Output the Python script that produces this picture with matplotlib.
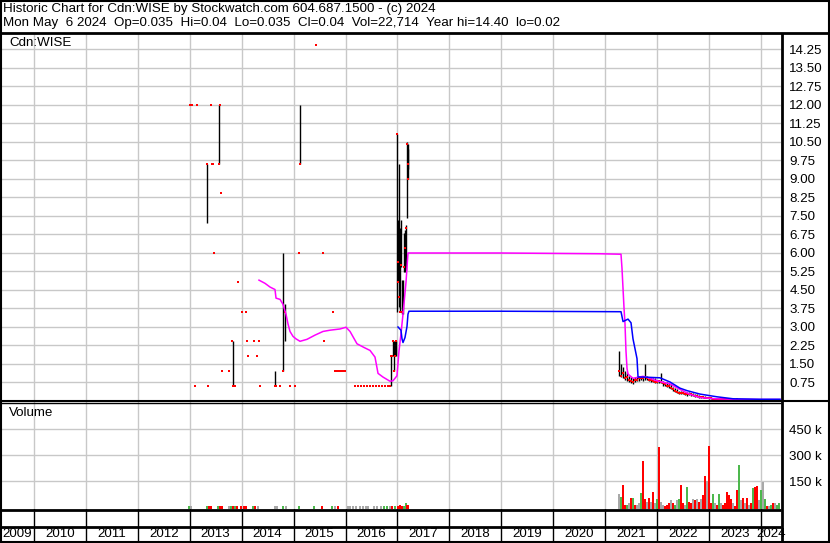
import matplotlib
matplotlib.use("Agg")
import matplotlib.pyplot as plt
from matplotlib.lines import Line2D
import numpy as np

plt.rcParams['font.family'] = ['Liberation Sans', 'DejaVu Sans']

# ---------------- data ----------------
title_line1 = "Historic Chart for Cdn:WISE by Stockwatch.com 604.687.1500 - (c) 2024"
title_line2 = "Mon May  6 2024  Op=0.035  Hi=0.04  Lo=0.035  Cl=0.04  Vol=22,714  Year hi=14.40  lo=0.02"
symbol = "Cdn:WISE"
years = [2009, 2010, 2011, 2012, 2013, 2014, 2015, 2016, 2017, 2018, 2019, 2020, 2021, 2022, 2023, 2024]
price_ticks = [0.75, 1.50, 2.25, 3.00, 3.75, 4.50, 5.25, 6.00, 6.75, 7.50, 8.25, 9.00,
               9.75, 10.50, 11.25, 12.00, 12.75, 13.50, 14.25]
vol_ticks = [150, 300, 450]  # thousands

# price bars: date (decimal year), high, low, close
bar_dates = [2013.005, 2013.043, 2013.110, 2013.130, 2013.332, 2013.351, 2013.400, 2013.419,
             2013.438, 2013.467, 2013.563, 2013.582, 2013.602, 2013.621, 2013.756, 2013.814,
             2013.833, 2013.852, 2013.871, 2013.929, 2014.006, 2014.083, 2014.102, 2014.121,
             2014.237, 2014.295, 2014.333, 2014.353, 2014.641, 2014.661, 2014.738, 2014.795,
             2014.834, 2014.930, 2015.026, 2015.113, 2015.123, 2015.431, 2015.566, 2015.585,
             2015.758, 2015.797, 2015.835, 2015.874, 2015.913, 2015.951, 2015.990,
             2016.182, 2016.240, 2016.298, 2016.355, 2016.413, 2016.471, 2016.528, 2016.586,
             2016.644, 2016.702, 2016.760, 2016.818, 2016.856,
             2016.875, 2016.894, 2016.913, 2016.933, 2016.952, 2016.971, 2016.990, 2017.010,
             2017.019, 2017.029, 2017.048, 2017.058, 2017.087, 2017.106, 2017.125, 2017.144,
             2017.164, 2017.183, 2017.193, 2017.202,
             2021.266, 2021.304, 2021.343, 2021.381, 2021.420, 2021.458, 2021.497, 2021.535,
             2021.574, 2021.612, 2021.651, 2021.689, 2021.728, 2021.766, 2021.805, 2021.843,
             2021.882, 2021.920, 2021.959, 2021.997, 2022.036, 2022.074, 2022.113, 2022.151,
             2022.190, 2022.228, 2022.267, 2022.305, 2022.344, 2022.382, 2022.421, 2022.459,
             2022.498, 2022.536, 2022.575, 2022.613, 2022.652, 2022.690, 2022.729, 2022.767,
             2022.806, 2022.844, 2022.883, 2022.921, 2022.960, 2022.998, 2023.037, 2023.075,
             2023.114, 2023.152, 2023.191, 2023.229, 2023.268, 2023.306, 2023.345, 2023.383,
             2023.422, 2023.460, 2023.499, 2023.537, 2023.576, 2023.614, 2023.653, 2023.691,
             2023.730, 2023.768, 2023.807, 2023.845, 2023.884, 2023.922, 2023.961, 2023.999,
             2024.038, 2024.076, 2024.115, 2024.153, 2024.192, 2024.230, 2024.269, 2024.307,
             2024.346]
bar_high = [12.0, 12.0, 0.6, 12.0, 9.6, 0.6, 12.0, 9.6,
            9.6, 6.0, 12.0, 12.0, 8.4, 1.2, 1.2, 2.4,
            2.4, 0.6, 0.6, 4.8, 3.6, 3.6, 2.4, 1.8,
            2.4, 1.8, 2.4, 0.6, 1.2, 0.6, 0.6, 6.0,
            3.9, 0.6, 0.6, 6.0, 12.0, 14.4, 6.0, 2.4,
            3.6, 1.2, 1.2, 1.2, 1.2, 1.2, 1.2,
            0.6, 0.6, 0.6, 0.6, 0.6, 0.6, 0.6, 0.6,
            0.6, 0.6, 0.6, 0.6, 0.6,
            1.8, 1.8, 2.4, 2.4, 2.4, 2.4, 10.8, 7.3,
            7.2, 9.6, 7.0, 7.3, 4.9, 4.9, 6.8, 6.9,
            7.1, 10.5, 10.4, 10.2,
            2.0, 1.5, 1.35, 1.2, 1.1, 1.0, 0.95, 0.9,
            0.95, 0.95, 1.0, 1.0, 1.0, 1.5, 1.0, 0.95,
            0.95, 0.9, 0.9, 0.85, 0.85, 1.1, 0.8, 0.75,
            0.75, 0.7, 0.65, 0.55, 0.5, 0.45, 0.4, 0.4,
            0.38, 0.35, 0.35, 0.35, 0.32, 0.3, 0.28, 0.25,
            0.22, 0.2, 0.2, 0.18, 0.16, 0.15, 0.13, 0.12,
            0.11, 0.1, 0.1, 0.09, 0.08, 0.08, 0.08, 0.07,
            0.07, 0.07, 0.06, 0.07, 0.06, 0.06, 0.06, 0.06,
            0.06, 0.06, 0.05, 0.06, 0.05, 0.05, 0.05, 0.05,
            0.05, 0.05, 0.05, 0.05, 0.05, 0.05, 0.05, 0.05,
            0.04]
bar_low = [12.0, 12.0, 0.6, 12.0, 7.2, 0.6, 12.0, 9.6,
           9.6, 6.0, 9.6, 12.0, 8.4, 1.2, 1.2, 2.4,
           0.6, 0.6, 0.6, 4.8, 3.6, 3.6, 2.4, 1.8,
           2.4, 1.8, 2.4, 0.6, 0.6, 0.6, 0.6, 1.2,
           2.4, 0.6, 0.6, 6.0, 9.6, 14.4, 6.0, 2.4,
           3.6, 1.2, 1.2, 1.2, 1.2, 1.2, 1.2,
           0.6, 0.6, 0.6, 0.6, 0.6, 0.6, 0.6, 0.6,
           0.6, 0.6, 0.6, 0.6, 0.6,
           0.6, 1.8, 1.8, 1.2, 1.8, 1.8, 3.6, 4.8,
           5.4, 3.8, 3.6, 5.4, 3.5, 3.5, 5.2, 5.2,
           5.3, 7.4, 9.0, 9.4,
           1.0, 0.95, 0.9, 0.85, 0.8, 0.75, 0.7, 0.65,
           0.75, 0.8, 0.8, 0.85, 0.8, 0.85, 0.85, 0.8,
           0.75, 0.75, 0.7, 0.7, 0.7, 0.7, 0.6, 0.6,
           0.55, 0.5, 0.45, 0.4, 0.35, 0.3, 0.28, 0.25,
           0.25, 0.22, 0.2, 0.22, 0.2, 0.18, 0.15, 0.14,
           0.12, 0.12, 0.1, 0.1, 0.09, 0.08, 0.07, 0.06,
           0.06, 0.05, 0.05, 0.04, 0.04, 0.04, 0.04, 0.04,
           0.04, 0.04, 0.03, 0.04, 0.03, 0.03, 0.03, 0.03,
           0.03, 0.03, 0.03, 0.03, 0.03, 0.03, 0.03, 0.03,
           0.03, 0.03, 0.03, 0.03, 0.03, 0.03, 0.03, 0.03,
           0.035]
bar_close = [12.0, 12.0, 0.6, 12.0, 9.6, 0.6, 12.0, 9.6,
             9.6, 6.0, 9.6, 12.0, 8.4, 1.2, 1.2, 2.4,
             0.6, 0.6, 0.6, 4.8, 3.6, 3.6, 2.4, 1.8,
             2.4, 1.8, 2.4, 0.6, 0.6, 0.6, 0.6, 1.2,
             3.6, 0.6, 0.6, 6.0, 9.6, 14.4, 6.0, 2.4,
             3.6, 1.2, 1.2, 1.2, 1.2, 1.2, 1.2,
             0.6, 0.6, 0.6, 0.6, 0.6, 0.6, 0.6, 0.6,
             0.6, 0.6, 0.6, 0.6, 0.6,
             1.8, 1.8, 2.4, 1.2, 1.8, 2.4, 10.8, 4.8,
             5.6, 4.2, 3.6, 5.5, 3.6, 3.6, 5.4, 6.2,
             7.0, 10.4, 9.0, 9.6,
             1.2, 1.0, 1.1, 0.9, 0.95, 0.85, 0.8, 0.75,
             0.85, 0.85, 0.9, 0.9, 0.9, 0.95, 0.9, 0.85,
             0.85, 0.8, 0.75, 0.75, 0.8, 0.75, 0.7, 0.65,
             0.6, 0.6, 0.5, 0.45, 0.4, 0.35, 0.32, 0.3,
             0.3, 0.28, 0.25, 0.28, 0.25, 0.22, 0.2, 0.18,
             0.16, 0.15, 0.14, 0.12, 0.11, 0.1, 0.09, 0.08,
             0.08, 0.07, 0.06, 0.06, 0.05, 0.05, 0.05, 0.05,
             0.05, 0.05, 0.04, 0.05, 0.04, 0.04, 0.04, 0.04,
             0.04, 0.04, 0.04, 0.04, 0.04, 0.04, 0.04, 0.04,
             0.04, 0.04, 0.04, 0.04, 0.04, 0.04, 0.04, 0.04,
             0.04]

# long moving average (magenta)
ma_long_dates = [2014.333, 2014.449, 2014.545, 2014.641, 2014.661, 2014.738, 2014.795, 2014.853,
                 2014.892, 2014.930, 2014.988, 2015.045, 2015.123, 2015.257, 2015.411, 2015.566,
                 2015.700, 2015.893, 2016.009, 2016.086, 2016.220, 2016.355, 2016.471, 2016.567,
                 2016.625, 2016.721, 2016.856, 2016.913, 2016.990, 2017.029, 2017.067, 2017.106,
                 2017.164, 2017.202, 2018.974, 2020.900, 2021.304, 2021.323, 2021.362, 2021.381,
                 2021.400, 2021.420, 2021.439, 2021.535, 2021.728, 2021.863, 2021.997, 2022.248,
                 2022.440, 2022.633, 2022.825, 2023.114, 2023.461, 2023.981, 2024.366]
ma_long = [4.88, 4.75, 4.6, 4.5, 4.15, 4.1, 3.9, 3.5,
           3.1, 2.8, 2.6, 2.5, 2.4, 2.48, 2.65, 2.8,
           2.85, 2.9, 2.97, 2.8, 2.3, 2.15, 2.03, 1.76,
           1.1, 0.95, 0.78, 0.8, 1.0, 2.0, 2.7, 3.5,
           4.8, 5.98, 5.98, 5.95, 5.93, 5.36, 3.75, 3.1,
           2.0, 1.3, 1.07, 0.9, 0.98, 0.9, 0.8, 0.67,
           0.45, 0.25, 0.12, 0.07, 0.05, 0.04, 0.04]

# short moving average (blue)
ma_short_dates = [2017.010, 2017.067, 2017.087, 2017.106, 2017.144, 2017.183, 2017.202, 2017.221,
                  2018.974, 2021.285, 2021.304, 2021.343, 2021.439, 2021.497, 2021.535, 2021.612,
                  2021.632, 2021.728, 2022.055, 2022.248, 2022.440, 2022.575, 2022.825, 2023.152,
                  2023.461, 2023.981, 2024.366]
ma_short = [2.98, 2.85, 2.5, 2.35, 2.55, 3.0, 3.5, 3.62,
            3.62, 3.6, 3.6, 3.2, 3.3, 3.15, 2.5, 1.7,
            0.95, 0.95, 0.92, 0.75, 0.5, 0.4, 0.26, 0.15,
            0.07, 0.05, 0.05]

# volume (thousands), colour code: r = down, g = up, k = unchanged
vol_dates = [2012.985, 2013.024, 2013.332, 2013.370, 2013.409, 2013.544, 2013.582, 2013.621,
             2013.756, 2013.794, 2013.833, 2013.871, 2013.910, 2013.987, 2014.044, 2014.083,
             2014.218, 2014.256, 2014.314, 2014.641, 2014.680, 2014.795, 2014.853, 2015.103,
             2015.392, 2015.546, 2015.739, 2015.797, 2015.854, 2016.047, 2016.086, 2016.143,
             2016.201, 2016.278, 2016.336, 2016.394, 2016.432, 2016.548, 2016.605, 2016.682,
             2016.740, 2016.798, 2016.855, 2016.894, 2016.952, 2017.010, 2017.048, 2017.087,
             2017.125, 2017.164, 2017.183, 2017.202,
             2021.266, 2021.304, 2021.343, 2021.381, 2021.420, 2021.458, 2021.497, 2021.535,
             2021.574, 2021.612, 2021.651, 2021.689, 2021.728, 2021.766, 2021.805, 2021.843,
             2021.882, 2021.920, 2021.959, 2021.997, 2022.036, 2022.074, 2022.113, 2022.151,
             2022.190, 2022.228, 2022.267, 2022.305, 2022.344, 2022.382, 2022.421, 2022.459,
             2022.498, 2022.536, 2022.575, 2022.613, 2022.652, 2022.690, 2022.729, 2022.767,
             2022.806, 2022.844, 2022.883, 2022.921, 2022.960, 2022.998, 2023.037, 2023.075,
             2023.114, 2023.152, 2023.191, 2023.229, 2023.268, 2023.306, 2023.345, 2023.383,
             2023.422, 2023.460, 2023.499, 2023.537, 2023.576, 2023.614, 2023.653, 2023.691,
             2023.730, 2023.768, 2023.807, 2023.845, 2023.884, 2023.922, 2023.961, 2023.999,
             2024.038, 2024.076, 2024.115, 2024.153, 2024.192, 2024.230, 2024.269, 2024.307,
             2024.346]
vol_k = [5, 4, 5, 6, 5, 4, 6, 5,
         4, 5, 6, 4, 5, 5, 6, 4,
         5, 6, 4, 3, 4, 5, 4, 5,
         4, 5, 5, 4, 6, 4, 5, 5,
         4, 7, 5, 4, 4, 4, 3, 4,
         4, 4, 5, 5, 3, 8, 10, 6,
         4, 25, 12, 14,
         75, 59, 127, 12, 12, 25, 52, 52,
         12, 12, 25, 83, 265, 44, 31, 52,
         31, 88, 21, 44, 348, 31, 12, 6,
         12, 25, 40, 21, 12, 40, 48, 127,
         25, 12, 117, 31, 25, 44, 40, 44,
         31, 44, 69, 179, 150, 354, 25, 73,
         25, 12, 75, 21, 12, 25, 87, 67,
         48, 25, 6, 98, 242, 40, 52, 21,
         52, 12, 21, 110, 115, 123, 40, 98,
         144, 48, 6, 6, 12, 21, 21, 12,
         23]
vol_dir = ['g', 'k', 'g', 'r', 'r', 'g', 'r', 'r',
           'k', 'g', 'r', 'g', 'r', 'r', 'r', 'r',
           'g', 'r', 'k', 'k', 'k', 'g', 'k', 'g',
           'g', 'r', 'g', 'k', 'r', 'k', 'k', 'k',
           'k', 'k', 'k', 'k', 'k', 'k', 'k', 'k',
           'g', 'g', 'k', 'r', 'g', 'r', 'r', 'r',
           'g', 'g', 'r', 'r',
           'k', 'g', 'r', 'r', 'g', 'k', 'r', 'g',
           'r', 'k', 'k', 'g', 'r', 'r', 'k', 'r',
           'k', 'r', 'k', 'g', 'r', 'k', 'k', 'r',
           'r', 'r', 'k', 'r', 'g', 'k', 'g', 'r',
           'r', 'k', 'g', 'r', 'r', 'k', 'r', 'k',
           'r', 'k', 'r', 'r', 'k', 'r', 'r', 'g',
           'k', 'r', 'g', 'k', 'r', 'r', 'r', 'r',
           'r', 'k', 'r', 'r', 'g', 'k', 'r', 'k',
           'r', 'k', 'r', 'g', 'r', 'r', 'k', 'g',
           'k', 'g', 'r', 'k', 'g', 'r', 'k', 'g',
           'g']

# ---------------- layout helpers ----------------
W, H = 830, 543
FS = 9.6
fig = plt.figure(figsize=(W / 100, H / 100), dpi=100)
fig.patch.set_facecolor('white')


def rect(x0, y0, x1, y1):
    return [x0 / W, 1 - y1 / H, (x1 - x0) / W, (y1 - y0) / H]


def fline(x0, y0, x1, y1, lw=1.0, color='black'):
    fig.add_artist(Line2D([x0 / W, x1 / W], [1 - y0 / H, 1 - y1 / H],
                          transform=fig.transFigure, color=color, lw=lw,
                          solid_capstyle='butt'))


XMIN, XMAX = 2009.365, 2024.385
grid_c = '#C8C8C8'
colmap = {'r': '#FF0000', 'g': '#4DB84D', 'k': '#A8A8A8'}

# ---------------- main price panel ----------------
ax = fig.add_axes(rect(1, 33, 781, 400.5))
ax.set_xlim(XMIN, XMAX)
ax.set_ylim(0, 14.9)
for yv in price_ticks:
    ax.axhline(yv, color=grid_c, lw=1, zorder=0)
for yr in years[1:]:
    ax.axvline(yr, color=grid_c, lw=1, zorder=0)

bd = np.array(bar_dates)
ax.vlines(bd, bar_low, bar_high, color='black', lw=1.0, zorder=2)
ax.plot(bd, bar_close, ls='none', marker='s', ms=1.9, mew=0, color='#FF0000', zorder=3)
ax.plot(ma_long_dates, ma_long, color='#FF00FF', lw=1.1, zorder=4)
ax.plot(ma_short_dates, ma_short, color='#0000FF', lw=1.1, zorder=4)

ax.yaxis.tick_right()
ax.set_yticks(price_ticks)
ax.set_yticklabels([f"{v:.2f}" for v in price_ticks], fontsize=FS)
ax.tick_params(axis='y', length=0, pad=6)
ax.set_xticks([])
for s in ax.spines.values():
    s.set_visible(False)
fig.text(9 / W, 1 - 43 / H, symbol, fontsize=FS, va='center')

# ---------------- volume panel ----------------
axv = fig.add_axes(rect(1, 402, 781, 509))
axv.set_xlim(XMIN, XMAX)
vbot = -11.5
axv.set_ylim(vbot, 606)
for yv in vol_ticks:
    axv.axhline(yv, color=grid_c, lw=1, zorder=0)
for yr in years[1:]:
    axv.axvline(yr, color=grid_c, lw=1, zorder=0)
vk = np.array(vol_k, dtype=float)
axv.bar(vol_dates, vk - vbot, bottom=vbot, width=0.033,
        color=[colmap[c] for c in vol_dir], linewidth=0, zorder=2)
axv.yaxis.tick_right()
axv.set_yticks(vol_ticks)
axv.set_yticklabels([f"{v} k" for v in vol_ticks], fontsize=FS)
axv.tick_params(axis='y', length=0, pad=6)
axv.set_xticks([])
for s in axv.spines.values():
    s.set_visible(False)
fig.text(9 / W, 1 - 413 / H, "Volume", fontsize=FS, va='center')

# ---------------- year rows ----------------
axy = fig.add_axes(rect(1, 509, 781, 542))
axy.set_xlim(XMIN, XMAX)
axy.set_ylim(0, 33)
axy.axis('off')
for yr in years[1:]:
    axy.plot([yr, yr], [0, 33], color='black', lw=1)
for yr in years:
    lo = max(yr, XMIN)
    hi = min(yr + 1, XMAX)
    axy.text((lo + hi) / 2, 8, str(yr), ha='center', va='center', fontsize=FS)

# ---------------- frame lines ----------------
fline(0, 0.5, W, 0.5, lw=1.5)
fline(0, H - 1, W, H - 1, lw=1.5)
fline(0.5, 0, 0.5, H, lw=1.5)
fline(W - 1, 0, W - 1, H, lw=1.5)
fline(0, 33, W, 33, lw=2)
fline(781.5, 33, 781.5, H, lw=2)
fline(0, 400.5, W, 400.5, lw=1.5)
fline(0, 403, 781, 403, lw=1)
fline(0, 509.5, 781, 509.5, lw=2)
fline(0, 526.5, 781, 526.5, lw=2)

# ---------------- header ----------------
fig.text(3 / W, 1 - 9 / H, title_line1, fontsize=FS, va='center')
fig.text(3 / W, 1 - 23 / H, title_line2, fontsize=FS, va='center')

fig.savefig("out.png", dpi=100)
